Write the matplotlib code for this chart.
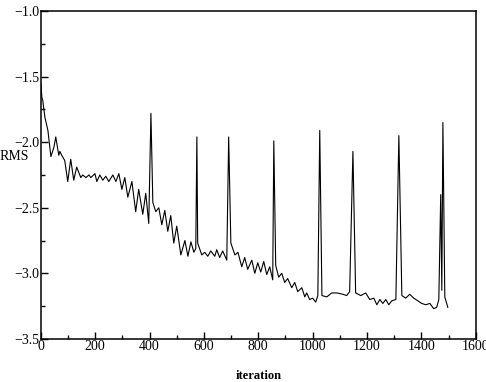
import matplotlib.pyplot as plt
from matplotlib.ticker import MultipleLocator

# values (peaks/troughs of the trace)
iteration = [0, 4, 7, 15, 26, 37, 48, 55, 66, 70, 77, 88, 99, 110, 121, 132,
             147, 154, 166, 177, 184, 199, 206, 217, 228, 239, 250, 265, 276,
             287, 298, 309, 320, 335, 349, 360, 375, 386, 397, 405, 412, 423,
             434, 445, 456, 467, 478, 489, 500, 515, 530, 541, 552, 563, 570,
             574, 577, 592, 603, 614, 625, 640, 647, 658, 669, 684, 691, 699,
             714, 725, 739, 750, 761, 776, 787, 798, 809, 820, 831, 842, 853,
             857, 864, 875, 886, 897, 908, 923, 934, 945, 960, 971, 978, 989,
             1000, 1011, 1019, 1026, 1034, 1052, 1070, 1089, 1111, 1125, 1136,
             1148, 1158, 1177, 1195, 1210, 1225, 1236, 1247, 1258, 1269, 1280,
             1291, 1306, 1317, 1328, 1342, 1357, 1372, 1387, 1401, 1416, 1431,
             1445, 1456, 1464, 1471, 1475, 1479, 1486, 1497]
rms = [-1.55, -1.66, -1.68, -1.81, -1.91, -2.11, -2.04, -1.96, -2.10, -2.07,
       -2.10, -2.14, -2.30, -2.13, -2.29, -2.19, -2.27, -2.25, -2.27, -2.25,
       -2.27, -2.24, -2.30, -2.25, -2.29, -2.26, -2.30, -2.25, -2.30, -2.24,
       -2.36, -2.27, -2.42, -2.30, -2.53, -2.36, -2.55, -2.39, -2.62, -1.78,
       -2.46, -2.53, -2.50, -2.63, -2.52, -2.68, -2.56, -2.77, -2.64, -2.86,
       -2.75, -2.87, -2.76, -2.84, -2.81, -1.96, -2.77, -2.86, -2.84, -2.87,
       -2.83, -2.87, -2.82, -2.88, -2.83, -2.90, -1.96, -2.77, -2.86, -2.84,
       -2.95, -2.88, -2.97, -2.90, -3.00, -2.92, -2.99, -2.91, -3.01, -2.95,
       -3.05, -1.99, -2.94, -3.03, -3.00, -3.07, -3.04, -3.11, -3.07, -3.14,
       -3.11, -3.18, -3.15, -3.20, -3.19, -3.22, -3.17, -1.91, -3.17, -3.18,
       -3.15, -3.15, -3.16, -3.17, -3.14, -2.07, -3.15, -3.17, -3.15, -3.20,
       -3.19, -3.24, -3.20, -3.23, -3.20, -3.24, -3.21, -3.20, -1.95, -3.17,
       -3.19, -3.16, -3.19, -3.21, -3.23, -3.24, -3.23, -3.27, -3.26, -3.20,
       -2.40, -3.13, -1.85, -3.18, -3.26]

plt.rcParams['font.family'] = ['Liberation Serif', 'DejaVu Serif']

fig = plt.figure(figsize=(4.86, 3.82), dpi=100)
ax = fig.add_axes([0.084, 0.113, 0.895, 0.858])
ax.plot(iteration, rms, c='black', lw=0.8)

ax.set_xlim(0, 1600)
ax.set_ylim(-3.5, -1.0)
ax.xaxis.set_major_locator(MultipleLocator(200))
ax.xaxis.set_minor_locator(MultipleLocator(100))
ax.yaxis.set_major_locator(MultipleLocator(0.5))
ax.yaxis.set_minor_locator(MultipleLocator(0.25))
ax.tick_params(which='both', direction='in', top=False, right=False,
               labelsize=10, width=1)
ax.tick_params(which='major', length=5, pad=1)
ax.tick_params(which='minor', length=3)
for s in ax.spines.values():
    s.set_linewidth(1.1)

ax.set_xlabel('iteration', fontsize=9, fontweight='bold')
ax.xaxis.set_label_coords(0.5, -0.095)
ax.set_ylabel('RMS', rotation=0, fontsize=10, ha='center', va='center')
ax.yaxis.set_label_coords(-0.062, 0.555)

fig.savefig('out.png', dpi=100)
